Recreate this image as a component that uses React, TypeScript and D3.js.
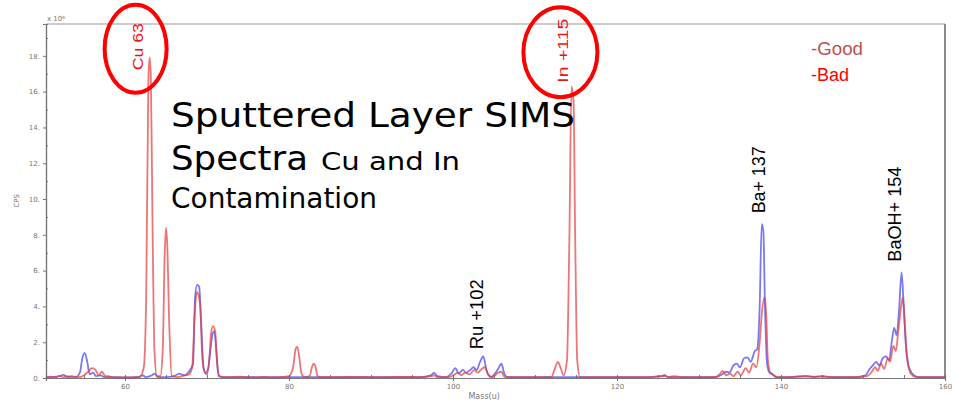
import { useEffect, useRef } from 'react';
import * as d3 from 'd3';

// SIMS spectrum, counts in units of 10^6 cps, mass in u
const goodSpectrum: [number, number][] = [
  [50.4, 0.03], [51, 0.05], [52, 0.1], [52.5, 0.18], [53, 0.05], [53.5, 0.1], [54, 0.05], [54.5, 0.3],
  [54.8, 1.1], [55.1, 1.4], [55.4, 0.9], [55.7, 0.2], [56.1, 0.3], [56.5, 0.1], [57, 0.15], [57.5, 0.05],
  [58.5, 0.05], [60, 0.03], [61.5, 0.05], [62.2, 0.15], [62.5, 0.05], [63.3, 0.15], [63.6, 0.25], [64, 0.05],
  [65, 0.05], [66, 0.1], [66.6, 0.25], [67.2, 0.15], [67.8, 0.35], [68.3, 0.8], [68.55, 4.5], [68.8, 5.2],
  [69.05, 5.1], [69.3, 3], [69.6, 0.5], [70, 0.2], [70.4, 1.5], [70.7, 2.5], [70.9, 2.6], [71.15, 1.5],
  [71.4, 0.1], [72, 0.05], [74, 0.05], [76, 0.05], [78, 0.05], [80, 0.05], [82, 0.05], [84, 0.05],
  [86, 0.05], [88, 0.05], [90, 0.05], [92, 0.05], [94, 0.05], [96, 0.05], [97.3, 0.15], [97.7, 0.28],
  [98.1, 0.1], [99.2, 0.05], [99.8, 0.25], [100.3, 0.55], [100.7, 0.25], [101.2, 0.45], [101.6, 0.3],
  [102.1, 0.45], [102.5, 0.6], [102.9, 0.45], [103.3, 0.9], [103.7, 1.2], [104.1, 0.4], [104.6, 0.05],
  [105.5, 0.5], [105.9, 0.8], [106.3, 0.2], [106.7, 0.05], [110, 0.05], [114, 0.05], [116, 0.05],
  [120, 0.05], [124, 0.05], [125.8, 0.12], [126.3, 0.05], [130, 0.05], [132, 0.05], [132.8, 0.2],
  [133.3, 0.35], [133.7, 0.3], [134.2, 0.7], [134.6, 0.8], [135, 0.6], [135.5, 1.1], [135.9, 1.15],
  [136.3, 0.9], [136.8, 1.5], [137.1, 1.6], [137.4, 4], [137.65, 8.6], [137.85, 8.2], [138.05, 4],
  [138.3, 0.8], [138.6, 0.3], [139, 0.2], [139.4, 0.05], [141, 0.05], [143, 0.12], [144, 0.05],
  [145, 0.1], [146, 0.05], [149, 0.05], [150.3, 0.15], [150.8, 0.5], [151.2, 0.7], [151.6, 0.9],
  [152, 0.7], [152.4, 1.1], [152.8, 1.2], [153.2, 1.0], [153.5, 2.0], [153.8, 2.8], [154.1, 2.4],
  [154.4, 3.8], [154.7, 5.9], [154.95, 4.2], [155.2, 2.0], [155.5, 0.8], [155.8, 0.4], [156.2, 0.15],
  [156.8, 0.05], [160, 0.05],
];

const badSpectrum: [number, number][] = [
  [50.4, 0.05], [51, 0.08], [51.5, 0.03], [52, 0.12], [52.5, 0.04], [53, 0.1], [53.5, 0.03], [54, 0.08],
  [54.5, 0.05], [55, 0.15], [55.5, 0.35], [56, 0.55], [56.4, 0.45], [56.8, 0.15], [57.2, 0.35], [57.6, 0.1],
  [58, 0.1], [58.5, 0.03], [59, 0.05], [60, 0.03], [61, 0.04], [61.8, 0.05], [62.3, 0.6], [62.6, 5],
  [62.85, 16.5], [63.0, 17.9], [63.15, 17], [63.35, 9], [63.6, 1.5], [63.9, 0.1], [64.3, 0.1], [64.6, 1.5],
  [64.85, 7], [65.0, 8.4], [65.15, 7.5], [65.4, 3], [65.7, 0.1], [66.5, 0.05], [67.3, 0.15], [67.8, 0.2],
  [68.2, 0.6], [68.5, 3.5], [68.75, 4.8], [69.0, 4.6], [69.2, 3.8], [69.45, 1], [69.8, 0.3], [70.2, 0.6],
  [70.5, 2.5], [70.75, 2.9], [71.0, 2.6], [71.2, 1], [71.5, 0.15], [72, 0.05], [73, 0.05], [74, 0.08],
  [75, 0.04], [76, 0.03], [77, 0.06], [78, 0.04], [79, 0.05], [80, 0.1], [80.5, 0.6], [80.8, 1.6],
  [81.0, 1.75], [81.25, 1.2], [81.5, 0.3], [81.9, 0.05], [82.5, 0.1], [82.8, 0.6], [83.0, 0.8],
  [83.25, 0.6], [83.5, 0.1], [84, 0.05], [86, 0.05], [88, 0.06], [90, 0.05], [92, 0.05], [94, 0.06],
  [96, 0.05], [97.3, 0.1], [97.7, 0.15], [98.1, 0.05], [99.5, 0.05], [100.2, 0.2], [100.6, 0.3],
  [101, 0.15], [101.5, 0.3], [102, 0.2], [102.6, 0.45], [103, 0.3], [103.5, 0.5], [103.9, 0.6],
  [104.3, 0.2], [104.8, 0.05], [105.5, 0.3], [105.9, 0.35], [106.3, 0.05], [108, 0.05], [110, 0.05],
  [112, 0.05], [112.4, 0.5], [112.8, 0.9], [113.1, 0.6], [113.5, 0.15], [113.9, 1], [114.2, 8],
  [114.45, 16.3], [114.7, 15.5], [114.9, 8], [115.15, 1], [115.5, 0.05], [117, 0.05], [120, 0.05],
  [122, 0.05], [124, 0.05], [125.5, 0.1], [125.8, 0.18], [126.2, 0.05], [127, 0.1], [128, 0.05],
  [130, 0.05], [132, 0.06], [132.5, 0.2], [132.9, 0.4], [133.3, 0.15], [133.8, 0.25], [134.2, 0.1],
  [134.7, 0.35], [135.1, 0.15], [135.7, 0.55], [136.1, 0.3], [136.6, 0.8], [137, 0.6], [137.4, 2],
  [137.7, 3.8], [138.0, 4.5], [138.2, 3.5], [138.4, 1], [138.7, 0.3], [139, 0.2], [139.5, 0.05],
  [141, 0.05], [143, 0.08], [145, 0.08], [147, 0.05], [149, 0.05], [150.5, 0.1], [151, 0.3],
  [151.5, 0.6], [151.8, 0.4], [152.2, 0.8], [152.6, 0.5], [153, 1.1], [153.3, 0.9], [153.7, 1.8],
  [154.0, 1.5], [154.3, 2.6], [154.6, 3.8], [154.85, 4.5], [155.1, 3.0], [155.35, 1.2], [155.6, 0.5],
  [155.9, 0.2], [156.5, 0.05], [160, 0.05],
];

const xMajorTicks = [60, 80, 100, 120, 140, 160];
const yMajorTicks = [0, 2, 4, 6, 8, 10, 12, 14, 16, 18];

// rotated peak annotations: mass, cps at label bottom, text
const peakLabels = [
  { text: 'Ru +102', mass: 102.9, at: 1.6, color: '#000', size: 18, len: 70 },
  { text: 'Ba+ 137', mass: 137.3, at: 9.2, color: '#000', size: 18, len: 67 },
  { text: 'BaOH+ 154', mass: 153.8, at: 6.5, color: '#000', size: 18, len: 95 },
  { text: 'Cu 63', mass: 61.6, at: 17.2, color: '#ee1111', size: 15, len: 47 },
  { text: 'In +115', mass: 113.4, at: 16.5, color: '#ee1111', size: 15, len: 64 },
];

const legendItems = [
  { text: '-Good', color: '#c0504d' },
  { text: '-Bad', color: '#ff0000' },
];

export default function App() {
  const svgRef = useRef<SVGSVGElement>(null);

  useEffect(() => {
    const width = 955, height = 401;
    const M = { top: 24, right: 10, bottom: 23, left: 46 };
    const svg = d3.select(svgRef.current);
    svg.selectAll('*').remove();
    svg.attr('width', width).attr('height', height);

    const x = d3.scaleLinear().domain([50.37, 160]).range([M.left, width - M.right]);
    const y = d3.scaleLinear().domain([0, 19.78]).range([height - M.bottom, M.top]);

    svg.append('rect').attr('width', width).attr('height', height).attr('fill', '#fff');

    // frame
    svg.append('line').attr('x1', M.left).attr('x2', width - M.right).attr('y1', M.top).attr('y2', M.top)
      .attr('stroke', '#9a9a9a').attr('stroke-width', 1.2);
    svg.append('line').attr('x1', width - M.right).attr('x2', width - M.right).attr('y1', M.top).attr('y2', height - M.bottom)
      .attr('stroke', '#8a8a8a').attr('stroke-width', 2);

    const styleAxis = (ax: any) => {
      ax.select('.domain').attr('stroke', '#777').attr('stroke-width', 1.2);
      ax.selectAll('.tick line').attr('stroke', '#777');
      ax.selectAll('.tick text').attr('fill', '#777').attr('font-size', 7).attr('font-family', 'DejaVu Sans');
    };

    // x axis
    svg.append('g').attr('transform', `translate(0,${height - M.bottom})`)
      .call(d3.axisBottom(x).tickValues(d3.range(55, 161, 5)).tickSize(-3).tickFormat(() => ''))
      .call(styleAxis);
    svg.append('g').attr('transform', `translate(0,${height - M.bottom})`)
      .call(d3.axisBottom(x).tickValues(xMajorTicks).tickSize(3).tickPadding(3).tickFormat(d3.format('d')))
      .call(styleAxis);

    // y axis
    svg.append('g').attr('transform', `translate(${M.left},0)`)
      .call(d3.axisLeft(y).tickValues(d3.range(1, 20, 2)).tickSize(-2).tickFormat(() => ''))
      .call(styleAxis);
    svg.append('g').attr('transform', `translate(${M.left},0)`)
      .call(d3.axisLeft(y).tickValues(yMajorTicks).tickSize(3).tickPadding(3).tickFormat(d => `${d}.`))
      .call(styleAxis);

    svg.append('text').attr('x', M.left + 1).attr('y', M.top - 3).attr('font-size', 7)
      .attr('font-family', 'DejaVu Sans').attr('fill', '#777').text('x 10⁶');
    svg.append('text').attr('transform', `translate(19,${y(9.9)}) rotate(-90)`).attr('text-anchor', 'middle')
      .attr('font-size', 7).attr('font-family', 'DejaVu Sans').attr('fill', '#777').text('CPS');
    svg.append('text').attr('x', x(103.8)).attr('y', height - 2).attr('text-anchor', 'middle')
      .attr('font-size', 8).attr('font-family', 'DejaVu Sans').attr('fill', '#777').text('Mass(u)');

    // spectra
    const line = d3.line<[number, number]>().x(d => x(d[0])).y(d => y(d[1])).curve(d3.curveMonotoneX);
    svg.append('path').datum(goodSpectrum).attr('d', line).attr('fill', 'none')
      .attr('stroke', '#4c4cf2').attr('stroke-opacity', 0.75).attr('stroke-width', 1.8);
    svg.append('path').datum(badSpectrum).attr('d', line).attr('fill', 'none')
      .attr('stroke', '#e53a3a').attr('stroke-opacity', 0.7).attr('stroke-width', 1.8);

    // title block
    const title = svg.append('g').attr('font-family', '"Comic Sans MS", "DejaVu Sans", sans-serif').attr('fill', '#000');
    title.append('text').attr('x', 171).attr('y', 127).attr('font-size', 33)
      .attr('textLength', 404).attr('lengthAdjust', 'spacingAndGlyphs').text('Sputtered Layer SIMS');
    title.append('text').attr('x', 171).attr('y', 170).attr('font-size', 33)
      .attr('textLength', 137).attr('lengthAdjust', 'spacingAndGlyphs').text('Spectra');
    title.append('text').attr('x', 321).attr('y', 170).attr('font-size', 25)
      .attr('textLength', 139).attr('lengthAdjust', 'spacingAndGlyphs').text('Cu and In');
    title.append('text').attr('x', 171).attr('y', 208).attr('font-size', 28)
      .attr('textLength', 206).attr('lengthAdjust', 'spacingAndGlyphs').text('Contamination');

    // peak labels
    peakLabels.forEach(p => {
      svg.append('text')
        .attr('transform', `translate(${x(p.mass) + p.size * 0.36},${y(p.at)}) rotate(-90)`)
        .attr('font-size', p.size).attr('font-family', '"Liberation Sans", Arial, sans-serif')
        .attr('fill', p.color).attr('textLength', p.len).attr('lengthAdjust', 'spacingAndGlyphs')
        .text(p.text);
    });

    // highlight ellipses
    svg.append('ellipse').attr('cx', x(61.3)).attr('cy', y(18.4)).attr('rx', 31).attr('ry', 44)
      .attr('fill', 'none').attr('stroke', '#ff0000').attr('stroke-width', 4);
    svg.append('ellipse').attr('cx', x(113.1)).attr('cy', y(18.2)).attr('rx', 37).attr('ry', 45)
      .attr('fill', 'none').attr('stroke', '#ff0000').attr('stroke-width', 4);

    // legend
    legendItems.forEach((l, i) => {
      svg.append('text').attr('x', 811).attr('y', 55 + i * 26).attr('font-size', 18)
        .attr('font-family', '"Liberation Sans", Arial, sans-serif').attr('fill', l.color)
        .attr('textLength', i === 0 ? 52 : 38).attr('lengthAdjust', 'spacingAndGlyphs').text(l.text);
    });
  }, []);

  return (
    <div style={{ position: 'fixed', left: 0, top: 0 }}>
      <svg ref={svgRef} style={{ display: 'block' }} />
    </div>
  );
}
